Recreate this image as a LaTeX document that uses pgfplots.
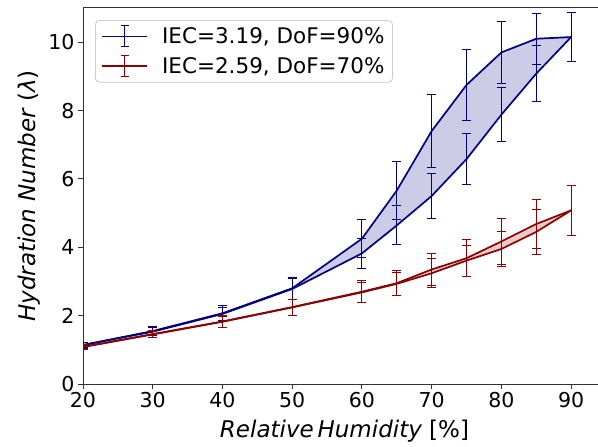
\documentclass[border=0pt]{standalone}
\usepackage{fontspec}
\setmainfont{DejaVu Sans}
\usepackage{pgfplots}
\pgfplotsset{compat=1.18}
\usepackage{pgfplotstable}
\usepgfplotslibrary{fillbetween}
\definecolor{navyb}{HTML}{000080}
\definecolor{dred}{HTML}{8B0000}

\pgfplotstableread{
x y e
20 1.14 0.09
30 1.55 0.13
40 2.07 0.22
50 2.80 0.33
60 4.25 0.55
65 5.66 0.85
70 7.40 1.06
75 8.75 1.03
80 9.70 0.90
85 10.10 0.74
90 10.15 0.71
}\blueup
\pgfplotstableread{
x y e
20 1.14 0.07
30 1.53 0.11
40 2.05 0.20
50 2.78 0.31
60 3.82 0.43
65 4.64 0.57
70 5.50 0.67
75 6.58 0.75
80 7.88 0.79
85 9.08 0.81
90 10.15 0.71
}\bluelo
\pgfplotstableread{
x y e
20 1.09 0.08
30 1.46 0.10
40 1.83 0.19
50 2.25 0.23
60 2.70 0.32
65 2.95 0.36
70 3.35 0.47
75 3.68 0.54
80 4.17 0.67
85 4.68 0.71
90 5.08 0.74
}\redup
\pgfplotstableread{
x y e
20 1.08 0.06
30 1.45 0.09
40 1.82 0.17
50 2.24 0.22
60 2.68 0.28
65 2.93 0.34
70 3.24 0.42
75 3.61 0.45
80 3.95 0.51
85 4.45 0.66
90 5.08 0.74
}\redlo

\begin{document}
\begin{tikzpicture}
\begin{axis}[
  scale only axis, width=523bp, height=376bp,
  xmin=20, xmax=95, ymin=0, ymax=11,
  xtick={20,30,...,90}, ytick={0,2,...,10},
  tick align=outside, tick pos=left, major tick length=5bp,
  every tick/.style={black!80, line width=0.9bp},
  axis line style={black!80, line width=1bp},
  /pgf/number format/assume math mode=true,
  tick label style={font=\fontsize{20.5bp}{24bp}\selectfont},
  xlabel={{\itshape Relative\,Humidity} [\%]},
  ylabel={{\itshape Hydration Number} (\textit{λ})},
  every axis x label/.style={at={(axis description cs:0.5,0)}, anchor=base, yshift=-53bp,
    font=\fontsize{23bp}{27bp}\selectfont},
  every axis y label/.style={at={(axis description cs:0,0.5)}, rotate=90, anchor=base, yshift=47bp,
    font=\fontsize{23bp}{27bp}\selectfont},
  legend cell align=left,
  legend style={at={(0.023,0.968)}, anchor=north west, draw=black!20, line width=0.8bp,
    rounded corners=4bp, fill=white, fill opacity=0.8, text opacity=1,
    font=\fontsize{21.5bp}{25bp}\selectfont, inner xsep=6bp, inner ysep=5bp, row sep=8bp,
    /tikz/every odd column/.append style={column sep=12bp}},
  error bars/y dir=both, error bars/y explicit,
]
\coordinate (BL) at (rel axis cs:0,0);
\coordinate (TL) at (rel axis cs:0,1);

\addplot[navyb, line width=1.7bp, name path=bu, forget plot,
  error bars/error bar style={navyb, line width=0.9bp},
  error bars/error mark options={navyb, line width=0.9bp, mark size=4.5bp, rotate=90}]
  table[x=x, y=y, y error=e] {\blueup};
\addplot[navyb, line width=1.7bp, name path=bl, forget plot,
  error bars/error bar style={navyb, line width=0.9bp},
  error bars/error mark options={navyb, line width=0.9bp, mark size=4.5bp, rotate=90}]
  table[x=x, y=y, y error=e] {\bluelo};
\addplot[navyb, fill opacity=0.2, draw=none, forget plot] fill between[of=bu and bl];

\addplot[dred, line width=1.7bp, name path=ru, forget plot,
  error bars/error bar style={dred, line width=0.9bp},
  error bars/error mark options={dred, line width=0.9bp, mark size=4.5bp, rotate=90}]
  table[x=x, y=y, y error=e] {\redup};
\addplot[dred, line width=1.7bp, name path=rl, forget plot,
  error bars/error bar style={dred, line width=0.9bp},
  error bars/error mark options={dred, line width=0.9bp, mark size=4.5bp, rotate=90}]
  table[x=x, y=y, y error=e] {\redlo};
\addplot[dred, fill opacity=0.2, draw=none, forget plot] fill between[of=ru and rl];

\addlegendimage{navyb, line width=1.7bp, legend image code/.code={
  \draw[navyb, line width=1.7bp] (0bp,0bp) -- (45bp,0bp);
  \draw[navyb, line width=0.9bp] (22.5bp,-10.5bp) -- (22.5bp,10.5bp);
  \draw[navyb, line width=0.9bp] (18.5bp,-10.5bp) -- (26.5bp,-10.5bp);
  \draw[navyb, line width=0.9bp] (18.5bp,10.5bp) -- (26.5bp,10.5bp);}}
\addlegendentry{IEC=3.19, DoF=90\%}
\addlegendimage{dred, line width=1.7bp, legend image code/.code={
  \draw[dred, line width=1.7bp] (0bp,0bp) -- (45bp,0bp);
  \draw[dred, line width=0.9bp] (22.5bp,-10.5bp) -- (22.5bp,10.5bp);
  \draw[dred, line width=0.9bp] (18.5bp,-10.5bp) -- (26.5bp,-10.5bp);
  \draw[dred, line width=0.9bp] (18.5bp,10.5bp) -- (26.5bp,10.5bp);}}
\addlegendentry{IEC=2.59, DoF=70\%}
\end{axis}
\pgfresetboundingbox
\path ([shift={(-83bp,-63bp)}]BL) rectangle ([shift={(515bp,8bp)}]TL);
\end{tikzpicture}
\end{document}
